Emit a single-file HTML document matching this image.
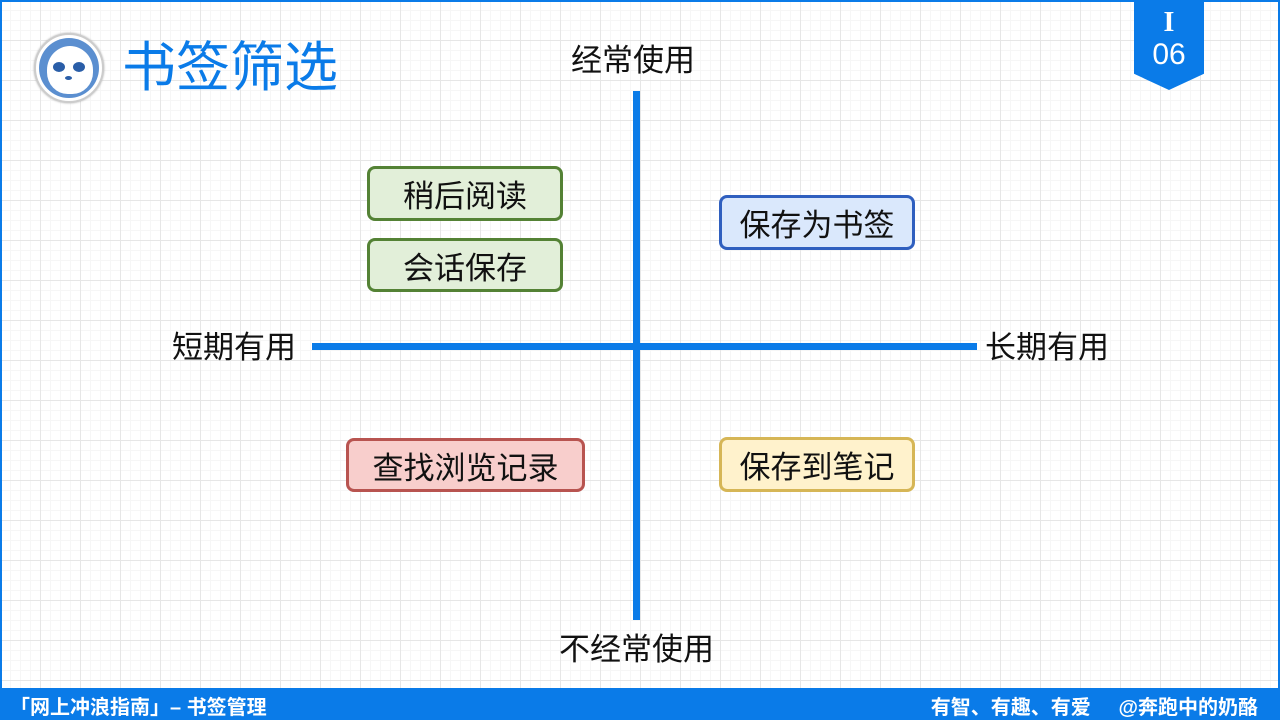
<!DOCTYPE html>
<html><head><meta charset="utf-8"><style>
*{margin:0;padding:0;box-sizing:border-box}
body{width:1280px;height:720px;position:relative;overflow:hidden;background:#fff;font-family:"Liberation Sans","Noto Sans CJK SC",sans-serif}
.grid{position:absolute;left:0;top:0;width:1280px;height:720px;
background-image:linear-gradient(#e6e6e6 1px,transparent 1px),linear-gradient(90deg,#e6e6e6 1px,transparent 1px),linear-gradient(#f6f6f6 1px,transparent 1px),linear-gradient(90deg,#f6f6f6 1px,transparent 1px);
background-size:40px 40px,40px 40px,10px 10px,10px 10px}
.frame{position:absolute;left:0;top:0;width:1280px;height:720px;border:2px solid #0a7be8}
.t{position:absolute;font-size:31px;color:#111;white-space:nowrap}
.box{position:absolute;border:3px solid;border-radius:8px;font-size:31px;color:#111;display:flex;align-items:center;justify-content:center}
.g{border-color:#548235;background:#e2efd9}
.bar{position:absolute;left:0;top:688px;width:1280px;height:32px;background:#0a7be8;color:#fff;font-size:20px;font-weight:bold}
</style></head><body>
<div class="grid"></div>
<div class="frame"></div>
<div style="position:absolute;left:34px;top:33px;width:70px;height:70px;border-radius:50%;background:#fff;border:2px solid #ccc;box-shadow:0 0 2px #aaa"></div>
<div style="position:absolute;left:39px;top:38px;width:60px;height:60px;border-radius:50%;background:#5b8fd0"></div>
<div style="position:absolute;left:47px;top:46px;width:46px;height:48px;border-radius:50% 50% 45% 45%;background:#fff"></div>
<div style="position:absolute;left:53px;top:62px;width:12px;height:10px;border-radius:50%;background:#2a5ea8"></div>
<div style="position:absolute;left:73px;top:62px;width:12px;height:10px;border-radius:50%;background:#2a5ea8"></div>
<div style="position:absolute;left:65px;top:76px;width:7px;height:4px;border-radius:50%;background:#2a5ea8"></div>
<div class="t" style="left:122px;top:36px;font-size:54px;color:#0a7be8;line-height:64px">书签筛选</div>
<div style="position:absolute;left:1134px;top:0;width:70px;height:90px;background:#0a7be8;clip-path:polygon(0 0,100% 0,100% 82%,50% 100%,0 82%)"></div>
<div class="t" style="left:1134px;top:8px;width:70px;text-align:center;color:#fff;font-family:'Liberation Serif',serif;font-weight:bold;font-size:28px;line-height:30px">I</div>
<div class="t" style="left:1134px;top:38px;width:70px;text-align:center;color:#fff;font-size:30px;line-height:34px">06</div>
<div style="position:absolute;left:633px;top:91px;width:7px;height:529px;background:#0a7be8"></div>
<div style="position:absolute;left:312px;top:343px;width:665px;height:7px;background:#0a7be8"></div>
<div class="t" style="left:571px;top:41px;line-height:40px">经常使用</div>
<div class="t" style="left:559px;top:630px;line-height:40px">不经常使用</div>
<div class="t" style="left:172px;top:328px;line-height:40px">短期有用</div>
<div class="t" style="left:985px;top:328px;line-height:40px">长期有用</div>
<div class="box g" style="left:367px;top:166px;width:196px;height:55px">稍后阅读</div>
<div class="box g" style="left:367px;top:238px;width:196px;height:54px">会话保存</div>
<div class="box" style="left:719px;top:195px;width:196px;height:55px;border-color:#2f5fbf;background:#dae8fc">保存为书签</div>
<div class="box" style="left:346px;top:438px;width:239px;height:54px;border-color:#b85450;background:#f8cecc">查找浏览记录</div>
<div class="box" style="left:719px;top:437px;width:196px;height:55px;border-color:#d6b656;background:#fff2cc">保存到笔记</div>
<div class="bar"><span style="position:absolute;left:10px;top:3px">「网上冲浪指南」– 书签管理</span><span style="position:absolute;right:22px;top:3px">有智、有趣、有爱 &nbsp;&nbsp;&nbsp;&nbsp;@奔跑中的奶酪</span></div>
</body></html>
